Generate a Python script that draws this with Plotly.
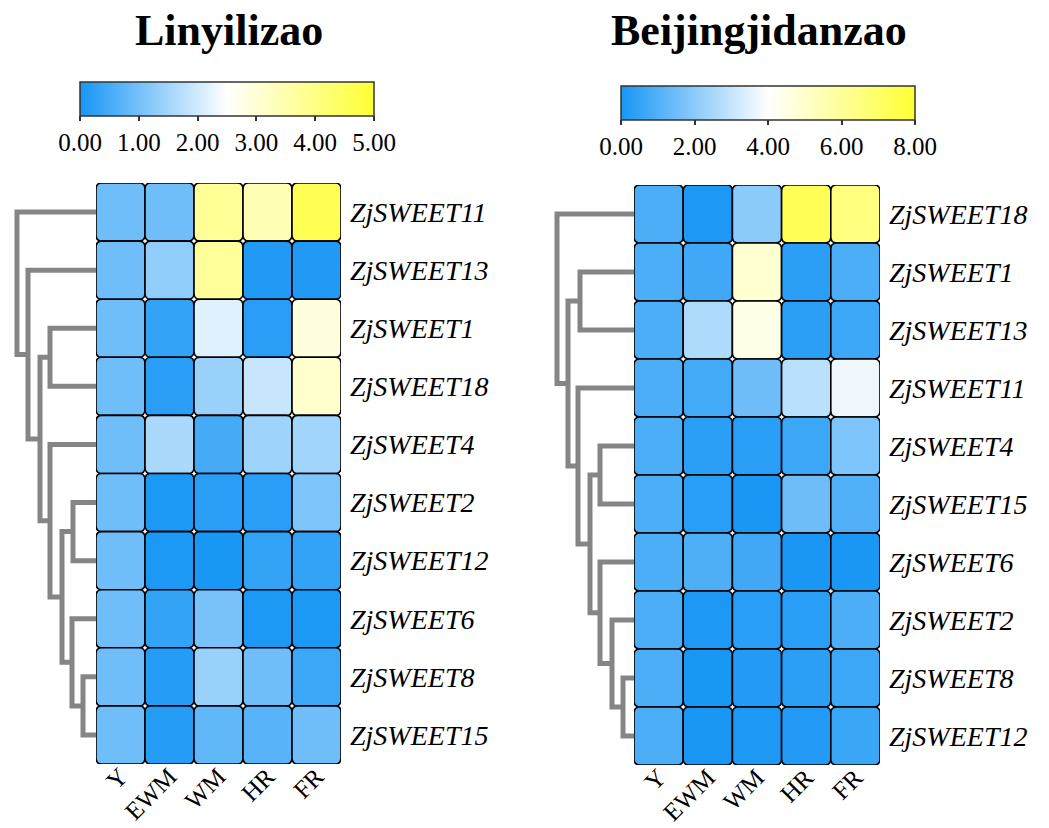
import plotly.graph_objects as go
from plotly.colors import sample_colorscale

# ---------------- data ----------------
stages = ["Y", "EWM", "WM", "HR", "FR"]

genes_L = ["ZjSWEET11", "ZjSWEET13", "ZjSWEET1", "ZjSWEET18", "ZjSWEET4",
           "ZjSWEET2", "ZjSWEET12", "ZjSWEET6", "ZjSWEET8", "ZjSWEET15"]
values_L = [
    [0.95, 0.95, 3.80, 3.40, 4.60],
    [0.95, 1.30, 3.75, 0.10, 0.10],
    [0.95, 0.30, 2.15, 0.20, 2.90],
    [0.95, 0.20, 1.40, 1.90, 3.10],
    [0.95, 1.60, 0.50, 1.45, 1.50],
    [0.95, 0.05, 0.20, 0.20, 1.10],
    [0.95, 0.05, 0.02, 0.30, 0.30],
    [0.95, 0.30, 1.05, 0.05, 0.05],
    [0.95, 0.15, 1.40, 0.95, 0.40],
    [0.95, 0.15, 0.80, 0.70, 0.95],
]
# linkage: (child a, child b, height); leaves 0..9, merged nodes 10..
linkage_L = [(5, 6, 2.3), (8, 9, 1.3), (7, 11, 2.4), (10, 12, 3.4), (2, 3, 4.6),
             (4, 13, 4.6), (14, 15, 5.6), (1, 16, 6.8), (0, 17, 7.9)]
cbar_ticks_L = [0, 1, 2, 3, 4, 5]

genes_R = ["ZjSWEET18", "ZjSWEET1", "ZjSWEET13", "ZjSWEET11", "ZjSWEET4",
           "ZjSWEET15", "ZjSWEET6", "ZjSWEET2", "ZjSWEET8", "ZjSWEET12"]
values_R = [
    [0.90, 0.10, 2.00, 7.30, 6.50],
    [0.90, 0.70, 4.90, 0.35, 0.90],
    [0.90, 2.60, 4.45, 0.35, 0.65],
    [0.90, 0.75, 1.50, 2.80, 3.75],
    [0.90, 0.35, 0.30, 0.65, 1.75],
    [0.90, 0.30, 0.05, 1.50, 1.00],
    [0.90, 0.95, 0.70, 0.05, 0.05],
    [0.90, 0.10, 0.30, 0.30, 0.90],
    [0.90, 0.02, 0.20, 0.35, 0.65],
    [0.90, 0.05, 0.10, 0.20, 0.60],
]
linkage_R = [(8, 9, 1.1), (7, 10, 2.2), (6, 11, 3.4), (4, 5, 3.4), (13, 12, 4.4),
             (3, 14, 5.6), (1, 2, 5.4), (16, 15, 6.6), (0, 17, 7.7)]
cbar_ticks_R = [0, 2, 4, 6, 8]

titles = ["Linyilizao", "Beijingjidanzao"]

# ---------------- style ----------------
FONT = "Liberation Serif"
CSCALE = [[0.0, "#1796F5"], [0.5, "#FFFFFF"], [1.0, "#FFFF33"]]
W, H = 1049, 828

fig = go.Figure()


def px_x(p):
    return p / W


def px_y(p):
    return 1 - p / H


panels = [
    dict(genes=genes_L, vals=values_L, link=linkage_L, ticks=cbar_ticks_L,
         xa="x", ya="y", xd="x3", hx=(96, 341), hy=(183, 764), dx=(0, 96),
         cb=(80, 374, 82), title=titles[0], tx=229),
    dict(genes=genes_R, vals=values_R, link=linkage_R, ticks=cbar_ticks_R,
         xa="x2", ya="y2", xd="x4", hx=(634, 880), hy=(185, 765), dx=(545, 634),
         cb=(621, 915, 86), title=titles[1], tx=759),
]

shapes = []
layout_axes = {}
for k, p in enumerate(panels):
    zmax = p["ticks"][-1]
    n = len(p["genes"])
    fig.add_trace(go.Heatmap(
        z=p["vals"], x=list(range(len(stages))), y=list(range(n)),
        zmin=0, zmax=zmax, colorscale=CSCALE, xgap=8, ygap=8,
        xaxis=p["xa"], yaxis=p["ya"], hoverinfo="skip",
        colorbar=dict(
            orientation="h", x=px_x((p["cb"][0] + p["cb"][1]) / 2), xanchor="center",
            len=(p["cb"][1] - p["cb"][0]) / W, lenmode="fraction",
            y=px_y(p["cb"][2]), yanchor="top", ypad=0, xpad=0,
            thickness=34, outlinewidth=1.5, outlinecolor="#333333",
            tickmode="array", tickvals=p["ticks"], tickformat=".2f",
            ticks="outside", ticklen=5, tickwidth=1.5, tickcolor="#333333",
            tickfont=dict(family=FONT, size=25, color="black"),
        ),
    ))
    # rounded cell outlines, coloured with the same colorscale
    rx, ry = 6 / 49, 6 / 58
    for i, row in enumerate(p["vals"]):
        for j, v in enumerate(row):
            col = sample_colorscale(CSCALE, [v / zmax])[0]
            x0, x1, y0, y1 = j - 0.5, j + 0.5, i - 0.5, i + 0.5
            path = (f"M{x0+rx},{y0} L{x1-rx},{y0} Q{x1},{y0} {x1},{y0+ry} "
                    f"L{x1},{y1-ry} Q{x1},{y1} {x1-rx},{y1} L{x0+rx},{y1} "
                    f"Q{x0},{y1} {x0},{y1-ry} L{x0},{y0+ry} Q{x0},{y0} {x0+rx},{y0} Z")
            shapes.append(dict(type="path", path=path, xref=p["xa"], yref=p["ya"],
                               fillcolor=col, line=dict(color="black", width=1.6),
                               layer="above"))
    # dendrogram
    pos = {i: (0.0, float(i)) for i in range(n)}
    for m, (a, b, h) in enumerate(p["link"]):
        ha, ya_ = pos[a]
        hb, yb = pos[b]
        fig.add_trace(go.Scatter(
            x=[ha, h, h, hb], y=[ya_, ya_, yb, yb], mode="lines",
            line=dict(color="#858585", width=5), xaxis=p["xd"], yaxis=p["ya"],
            hoverinfo="skip", showlegend=False))
        pos[n + m] = (h, (ya_ + yb) / 2)

    xa_name = "xaxis" if p["xa"] == "x" else "xaxis2"
    ya_name = "yaxis" if p["ya"] == "y" else "yaxis2"
    xd_name = "xaxis3" if p["xd"] == "x3" else "xaxis4"
    layout_axes[xa_name] = dict(
        domain=[px_x(p["hx"][0]), px_x(p["hx"][1])], anchor=p["ya"],
        range=[-0.5, len(stages) - 0.5], tickmode="array",
        tickvals=list(range(len(stages))), ticktext=stages, tickangle=-45,
        tickfont=dict(family=FONT, size=25, color="black"),
        showgrid=False, zeroline=False, showline=False, ticks="",
        ticklabelstandoff=-8, automargin=False)
    layout_axes[ya_name] = dict(
        domain=[px_y(p["hy"][1]), px_y(p["hy"][0])], anchor=p["xa"], side="right",
        range=[n - 0.5, -0.5], tickmode="array", tickvals=list(range(n)),
        ticktext=[f"<i>{g}</i>" for g in p["genes"]],
        tickfont=dict(family=FONT, size=28, color="black"),
        showgrid=False, zeroline=False, showline=False, ticks="",
        ticklabelstandoff=8, automargin=False)
    layout_axes[xd_name] = dict(
        domain=[px_x(p["dx"][0]), px_x(p["dx"][1])], anchor=p["ya"],
        range=[(p["dx"][1] - p["dx"][0]) / 10, 0], visible=False, automargin=False)

    fig.add_annotation(text=f"<b>{p['title']}</b>", x=px_x(p["tx"]), y=px_y(30),
                       xref="paper", yref="paper", xanchor="center", yanchor="middle",
                       showarrow=False,
                       font=dict(family=FONT, size=44, color="black"))

fig.update_layout(
    width=W, height=H, margin=dict(l=0, r=0, t=0, b=0, autoexpand=False),
    paper_bgcolor="white", plot_bgcolor="white", showlegend=False,
    font=dict(family=FONT, color="black"), shapes=shapes, **layout_axes)

fig.write_html("out.html", config={"displayModeBar": False},
               post_script="document.body.style.margin='0';"
                           "document.body.style.overflow='hidden';")
